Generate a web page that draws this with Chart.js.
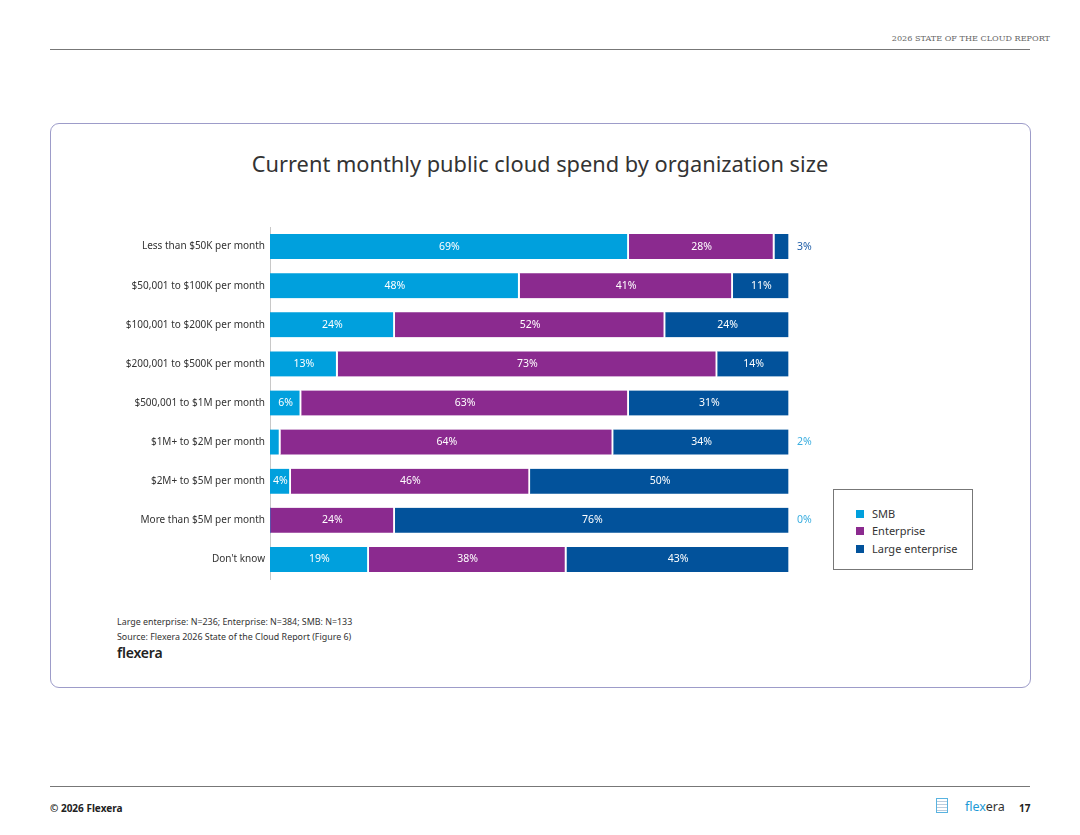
<!DOCTYPE html>
<html>
<head>
<meta charset="utf-8">
<script src="https://cdn.jsdelivr.net/npm/chart.js@4.4.1/dist/chart.umd.min.js"></script>
<style>
  html, body { margin: 0; padding: 0; background: #fff; }
  body { width: 1080px; height: 835px; position: relative; overflow: hidden; font-family: "Noto Sans", sans-serif; color: #333; }
  .hdr { position: absolute; right: 30px; top: 33px; font-family: "DejaVu Serif", "Liberation Serif", serif; font-size: 8.1px; color: #666; }
  .rule { position: absolute; left: 50px; width: 980px; height: 1px; background: #777; }
  .box { position: absolute; left: 50px; top: 123px; width: 979px; height: 563px; border: 1.2px solid #9d9cc9; border-radius: 9px; }
  .title { position: absolute; left: 0; width: 1080px; top: 149px; text-align: center; font-size: 21.8px; color: #333; }
  #wrap { position: absolute; left: 100px; top: 216px; width: 730px; height: 374px; }
  .legend { position: absolute; left: 833px; top: 489px; width: 140px; height: 81px; border: 1px solid #777; box-sizing: border-box; font-size: 11px; color: #333; }
  .legend div { position: absolute; left: 38px; }
  .legend span { position: absolute; left: -16px; top: 4px; width: 8px; height: 8px; }
  .note { position: absolute; left: 117px; font-size: 8.9px; color: #333; }
  .logo { position: absolute; left: 117px; top: 643px; font-size: 14px; font-weight: 600; color: #222; letter-spacing: -0.2px; }
  .foot { position: absolute; left: 50px; top: 801px; font-size: 10px; font-weight: 700; color: #222; }
  .flogo { position: absolute; left: 965px; top: 798px; font-size: 12.5px; color: #1e9ad6; }
  .flogo b { font-weight: 400; color: #333; }
  .page { position: absolute; left: 1019px; top: 801px; font-size: 10px; font-weight: 700; color: #222; }
  .icon { position: absolute; left: 936px; top: 798px; width: 10px; height: 13px; border: 1px solid #59b3e0; background: repeating-linear-gradient(#fff 0 2px, #bcd 2px 3px); }
</style>
</head>
<body>
<div class="hdr">2026 STATE OF THE CLOUD REPORT</div>
<div class="rule" style="top:49px"></div>
<div class="box"></div>
<div class="title">Current monthly public cloud spend by organization size</div>
<div id="wrap"><canvas id="chart"></canvas></div>
<div class="legend">
  <div style="top:16px"><span style="background:#00a0dd"></span>SMB</div>
  <div style="top:33px"><span style="background:#8b2a8f"></span>Enterprise</div>
  <div style="top:51px"><span style="background:#02529b"></span>Large enterprise</div>
</div>
<div class="note" style="top:615px">Large enterprise: N=236; Enterprise: N=384; SMB: N=133</div>
<div class="note" style="top:630px">Source: Flexera 2026 State of the Cloud Report (Figure 6)</div>
<div class="logo">flexera</div>
<div class="rule" style="top:786px"></div>
<div class="foot">© 2026 Flexera</div>
<div class="icon"></div>
<div class="flogo">flex<b>era</b></div>
<div class="page">17</div>

<script>
const categories = [
  'Less than $50K per month',
  '$50,001 to $100K per month',
  '$100,001 to $200K per month',
  '$200,001 to $500K per month',
  '$500,001 to $1M per month',
  '$1M+ to $2M per month',
  '$2M+ to $5M per month',
  'More than $5M per month',
  "Don't know"
];
const smb = [69, 48, 24, 13, 6, 2, 4, 0, 19];
const enterprise = [28, 41, 52, 73, 63, 64, 46, 24, 38];
const largeEnterprise = [3, 11, 24, 14, 31, 34, 50, 76, 43];

const colors = ['#00a0dd', '#8b2a8f', '#02529b'];

// labels inside the bars, small ones go to the right of the bar
const barLabels = {
  id: 'barLabels',
  afterDatasetsDraw(chart) {
    const ctx = chart.ctx;
    const right = chart.scales.x.getPixelForValue(100);
    ctx.save();
    ctx.font = '10.5px "Noto Sans"';
    ctx.textBaseline = 'middle';
    chart.data.datasets.forEach((ds, di) => {
      chart.getDatasetMeta(di).data.forEach((bar, i) => {
        const v = ds.data[i];
        const w = Math.abs(bar.x - bar.base);
        if (w >= 20) {
          ctx.fillStyle = '#fff';
          ctx.textAlign = 'center';
          ctx.fillText(v + '%', (bar.x + bar.base) / 2, bar.y);
        } else if (v <= 3) {
          ctx.fillStyle = di === 0 ? '#3aaee0' : '#1f5ea8';
          ctx.textAlign = 'left';
          ctx.fillText(v + '%', right + 7, bar.y);
        }
      });
    });
    ctx.restore();
  }
};

new Chart(document.getElementById('chart'), {
  type: 'bar',
  data: {
    labels: categories,
    datasets: [
      { label: 'SMB', data: smb, backgroundColor: colors[0] },
      { label: 'Enterprise', data: enterprise, backgroundColor: colors[1] },
      { label: 'Large enterprise', data: largeEnterprise, backgroundColor: colors[2] }
    ]
  },
  options: {
    indexAxis: 'y',
    responsive: true,
    maintainAspectRatio: false,
    animation: false,
    layout: { padding: { top: 10, bottom: 10, right: 40, left: 0 } },
    datasets: {
      bar: {
        barThickness: 25,
        borderColor: '#fff',
        borderWidth: { right: 2, left: 0, top: 0, bottom: 0 },
        borderSkipped: false
      }
    },
    plugins: { legend: { display: false }, tooltip: { enabled: false } },
    scales: {
      x: { stacked: true, min: 0, max: 100, display: false },
      y: {
        stacked: true,
        grid: { display: false, drawTicks: false },
        border: { display: true, color: '#c8c8c8', width: 1 },
        ticks: { color: '#333', font: { family: 'Noto Sans', size: 10 }, padding: 5 },
        afterFit(scale) { scale.width = 170; }
      }
    }
  },
  plugins: [barLabels]
});
</script>
</body>
</html>
